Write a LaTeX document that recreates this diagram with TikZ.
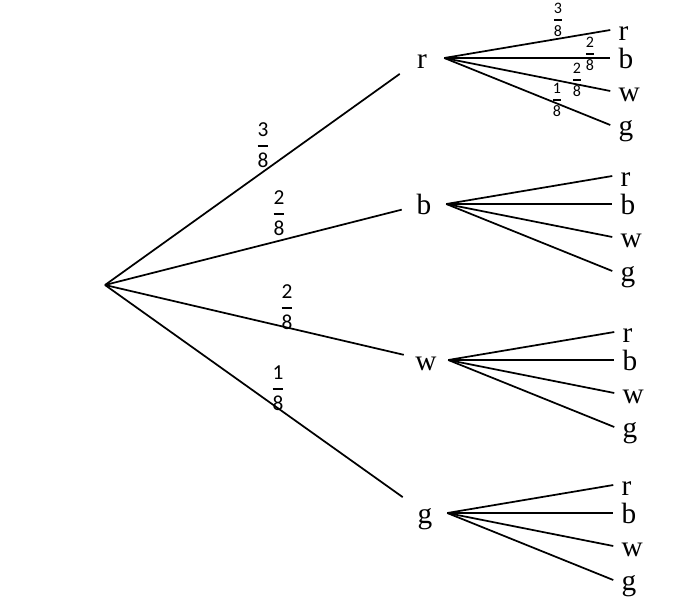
\documentclass[tikz,border=0pt]{standalone}
\usepackage{fontspec}
\usepackage{amsmath}
\setmainfont{Liberation Serif}
\newfontfamily\fracfont{Carlito}
\usetikzlibrary{calc, positioning}

\newcommand{\prob}[2]{$\genfrac{}{}{1.2pt}{0}{\mbox{#1}}{\mbox{#2}}$}

\tikzset{
  outcome/.style={font=\fontsize{22}{24}\selectfont, inner sep=0pt, text height=15pt, text depth=0pt,
                  minimum width=33pt, minimum height=27pt},
  leaf/.style={font=\fontsize{22}{24}\selectfont, inner ysep=0pt, inner xsep=6pt, text height=15pt,
               text depth=0pt, anchor=west},
  prob-big/.style={font=\fracfont\fontsize{16}{18}\selectfont, inner sep=0pt},
  prob-small/.style={font=\fracfont\fontsize{12}{14}\selectfont, inner sep=0pt},
  branch/.style={line width=1.3pt}
}

\begin{document}
\begin{tikzpicture}[x=0.75pt, y=-0.75pt]

  \useasboundingbox (0,0) rectangle (673,600);

  \coordinate (root) at (105,285);

  % first draw
  \node[outcome] (r) at (422,58)  {r};
  \node[outcome] (b) at (424,204) {b};
  \node[outcome] (w) at (426,360) {w};
  \node[outcome] (g) at (425,513) {g};

  \draw[branch] (root) to (r);
  \draw[branch] (root) to (b);
  \draw[branch] (root) to (w);
  \draw[branch] (root) to (g);

  % second draw
  \foreach \p in {r,b,w,g} {
    \foreach \c/\dy in {r/-28, b/0, w/33, g/67} {
      \node[leaf] (\p-\c) at ($(\p.east) + (166,\dy)$) {\c};
      \draw[branch] (\p.east) to (\p-\c.west);
    }
  }

  % probabilities
  \node[prob-big] (p-r) at (263,145) {\prob{3}{8}};
  \node[prob-big] (p-b) at (279,213) {\prob{2}{8}};
  \node[prob-big] (p-w) at (287,307) {\prob{2}{8}};
  \node[prob-big] (p-g) at (278,388) {\prob{1}{8}};

  \node[prob-small] (p-r-r) at (558,20)  {\prob{3}{8}};
  \node[prob-small] (p-r-b) at (590,54)  {\prob{2}{8}};
  \node[prob-small] (p-r-w) at (577,80)  {\prob{2}{8}};
  \node[prob-small] (p-r-g) at (557,100) {\prob{1}{8}};

\end{tikzpicture}
\end{document}
